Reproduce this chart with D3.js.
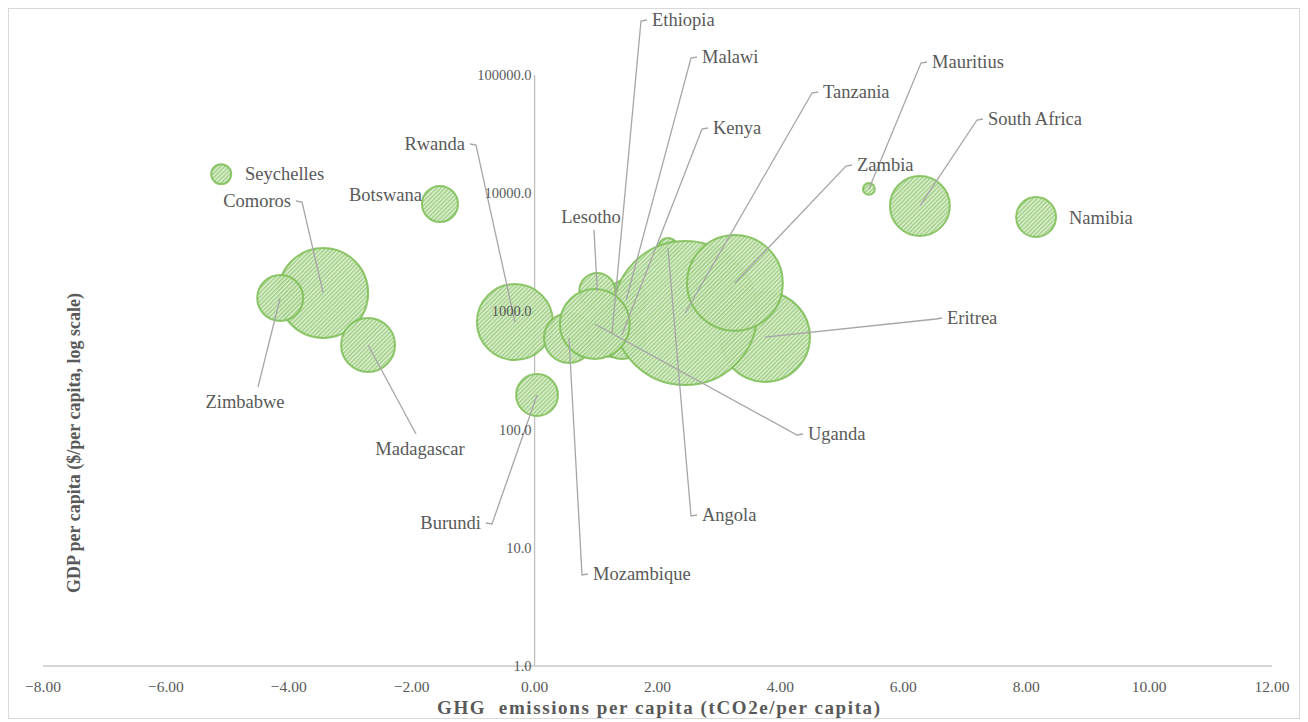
<!DOCTYPE html>
<html>
<head>
<meta charset="utf-8">
<script src="https://cdn.jsdelivr.net/npm/d3@7"></script>
<style>
  html, body { margin: 0; padding: 0; background: #fff; }
  svg { display: block; font-family: "Liberation Serif", "Times New Roman", serif; }
</style>
</head>
<body>
<svg id="chart" width="1308" height="722"></svg>
<script>
// ---- data ----
const countries = ["Comoros","Zimbabwe","Madagascar","Seychelles","Botswana","Rwanda","Mozambique","Burundi","Eritrea","Ethiopia","Kenya","Malawi","Angola","Tanzania","Zambia","Lesotho","Uganda","Mauritius","South Africa","Namibia"];
const ghgPerCapita = [-3.44,-4.14,-2.71,-5.10,-1.54,-0.32,0.56,0.04,3.75,1.26,1.42,1.49,2.17,2.45,3.26,1.02,0.98,5.44,6.27,8.16];
const gdpPerCapita = [1430,1300,520,14500,8100,813,596,196,607,657,631,1249,3440,969,1740,1490,782,10860,7800,6290];
const bubbleSize   = [40.5,10.6,14.6,2.0,6.5,29.0,12.5,8.8,40.5,11.5,11.5,8.0,2.0,104.0,46.0,6.5,24.5,0.7,18.0,8.0];
const xTicks = [-8,-6,-4,-2,0,2,4,6,8,10,12];
const yTicks = [1,10,100,1000,10000,100000];
const xTitle = "GHG  emissions per capita (tCO2e/per capita)";
const yTitle = "GDP per capita ($/per capita, log scale)";

// label layout (annotation placement, pixels)
const labelLayout = {
  "Seychelles":  {x:245, y:174, a:"start", hook:false},
  "Comoros":     {x:291, y:201, a:"end"},
  "Botswana":    {x:422, y:195, a:"end", hook:false},
  "Rwanda":      {x:465, y:144, a:"end"},
  "Zimbabwe":    {x:245, y:402, a:"middle", lx:258, ly:387},
  "Madagascar":  {x:420, y:449, a:"middle", lx:416, ly:434},
  "Burundi":     {x:481, y:523, a:"end"},
  "Mozambique":  {x:593, y:574, a:"start"},
  "Lesotho":     {x:591, y:217, a:"middle", lx:594, ly:230},
  "Ethiopia":    {x:652, y:20,  a:"start"},
  "Malawi":      {x:702, y:57,  a:"start"},
  "Kenya":       {x:713, y:128, a:"start"},
  "Tanzania":    {x:823, y:92,  a:"start"},
  "Mauritius":   {x:932, y:62,  a:"start"},
  "South Africa":{x:988, y:119, a:"start"},
  "Zambia":      {x:857, y:165, a:"start"},
  "Namibia":     {x:1069,y:218, a:"start", hook:false},
  "Eritrea":     {x:947, y:318, a:"start"},
  "Uganda":      {x:808, y:434, a:"start"},
  "Angola":      {x:702, y:515, a:"start"}
};

const svg = d3.select("#chart");
const W = 1308, H = 722;
const textColor = "#595959";

// chart border
svg.append("rect").attr("x", 8.5).attr("y", 8.5).attr("width", W - 17).attr("height", H - 12)
  .attr("fill", "#fff").attr("stroke", "#d9d9d9").attr("stroke-width", 1);

const x = d3.scaleLinear().domain([-8, 12]).range([43, 1272]);
const y = d3.scaleLog().domain([1, 100000]).range([666, 75]);
const r = d3.scaleSqrt().domain([0, d3.max(bubbleSize)]).range([0, 72]);

// pattern
const defs = svg.append("defs");
const pat = defs.append("pattern").attr("id", "hatch").attr("patternUnits", "userSpaceOnUse")
  .attr("width", 3).attr("height", 3).attr("patternTransform", "rotate(45)");
pat.append("rect").attr("width", 3).attr("height", 3).attr("fill", "#dff0d3");
pat.append("line").attr("x1", 0.75).attr("y1", 0).attr("x2", 0.75).attr("y2", 3)
  .attr("stroke", "#95c977").attr("stroke-width", 1.4);

// x axis line
svg.append("line").attr("x1", x(-8)).attr("x2", x(12)).attr("y1", y(1)).attr("y2", y(1))
  .attr("stroke", "#c9c9c9").attr("stroke-width", 1.5);
// y axis line
svg.append("line").attr("x1", x(0)).attr("x2", x(0)).attr("y1", y(1)).attr("y2", y(100000))
  .attr("stroke", "#bfbfbf").attr("stroke-width", 1.3);

// x tick labels
svg.append("g").selectAll("text").data(xTicks).join("text")
  .attr("x", d => x(d)).attr("y", 692).attr("text-anchor", "middle")
  .attr("font-size", 15.5).attr("fill", textColor)
  .text(d => d3.format(".2f")(d));

const data = countries.map((c, i) => ({name: c, gx: ghgPerCapita[i], gy: gdpPerCapita[i], s: bubbleSize[i]}));

// leader lines
const leaders = svg.append("g");
data.forEach(d => {
  const L = labelLayout[d.name];
  if (!L || L.hook === false) return;
  const cx = x(d.gx), cy = y(d.gy);
  let pts;
  if (L.a === "start") pts = [[L.x - 5, L.y], [L.x - 11, L.y + 1], [cx, cy]];
  else if (L.a === "end") pts = [[L.x + 5, L.y], [L.x + 11, L.y + 1], [cx, cy]];
  else pts = [[L.lx, L.ly], [cx, cy]];
  leaders.append("path").attr("d", d3.line()(pts)).attr("fill", "none")
    .attr("stroke", "#a6a6a6").attr("stroke-width", 1.3);
});

// bubbles
svg.append("g").selectAll("circle").data(data).join("circle")
  .attr("cx", d => x(d.gx)).attr("cy", d => y(d.gy)).attr("r", d => r(d.s))
  .attr("fill", "url(#hatch)").attr("fill-opacity", 0.95)
  .attr("stroke", "#7dbd55").attr("stroke-width", 2).attr("stroke-opacity", 0.85);

// leader lines above bubbles
leaders.raise();

// y tick labels
svg.append("g").selectAll("text").data(yTicks).join("text")
  .attr("x", x(0) - 3).attr("y", d => y(d)).attr("dy", "0.35em").attr("text-anchor", "end")
  .attr("font-size", 14.5).attr("fill", textColor)
  .text(d => d3.format(".1f")(d));

// country labels
svg.append("g").selectAll("text").data(data).join("text")
  .attr("x", d => labelLayout[d.name].x).attr("y", d => labelLayout[d.name].y)
  .attr("dy", "0.35em").attr("text-anchor", d => labelLayout[d.name].a)
  .attr("font-size", 18.5).attr("fill", textColor)
  .text(d => d.name);

// axis titles
svg.append("text").attr("x", 437).attr("y", 714).attr("text-anchor", "start")
  .attr("font-size", 19).attr("font-weight", "bold").attr("fill", textColor)
  .attr("textLength", 443).attr("lengthAdjust", "spacing")
  .style("white-space", "pre")
  .text(xTitle);
svg.append("text").attr("transform", "translate(80,443) rotate(-90)").attr("text-anchor", "middle")
  .attr("font-size", 18).attr("font-weight", "bold").attr("fill", textColor)
  .text(yTitle);
</script>
</body>
</html>
